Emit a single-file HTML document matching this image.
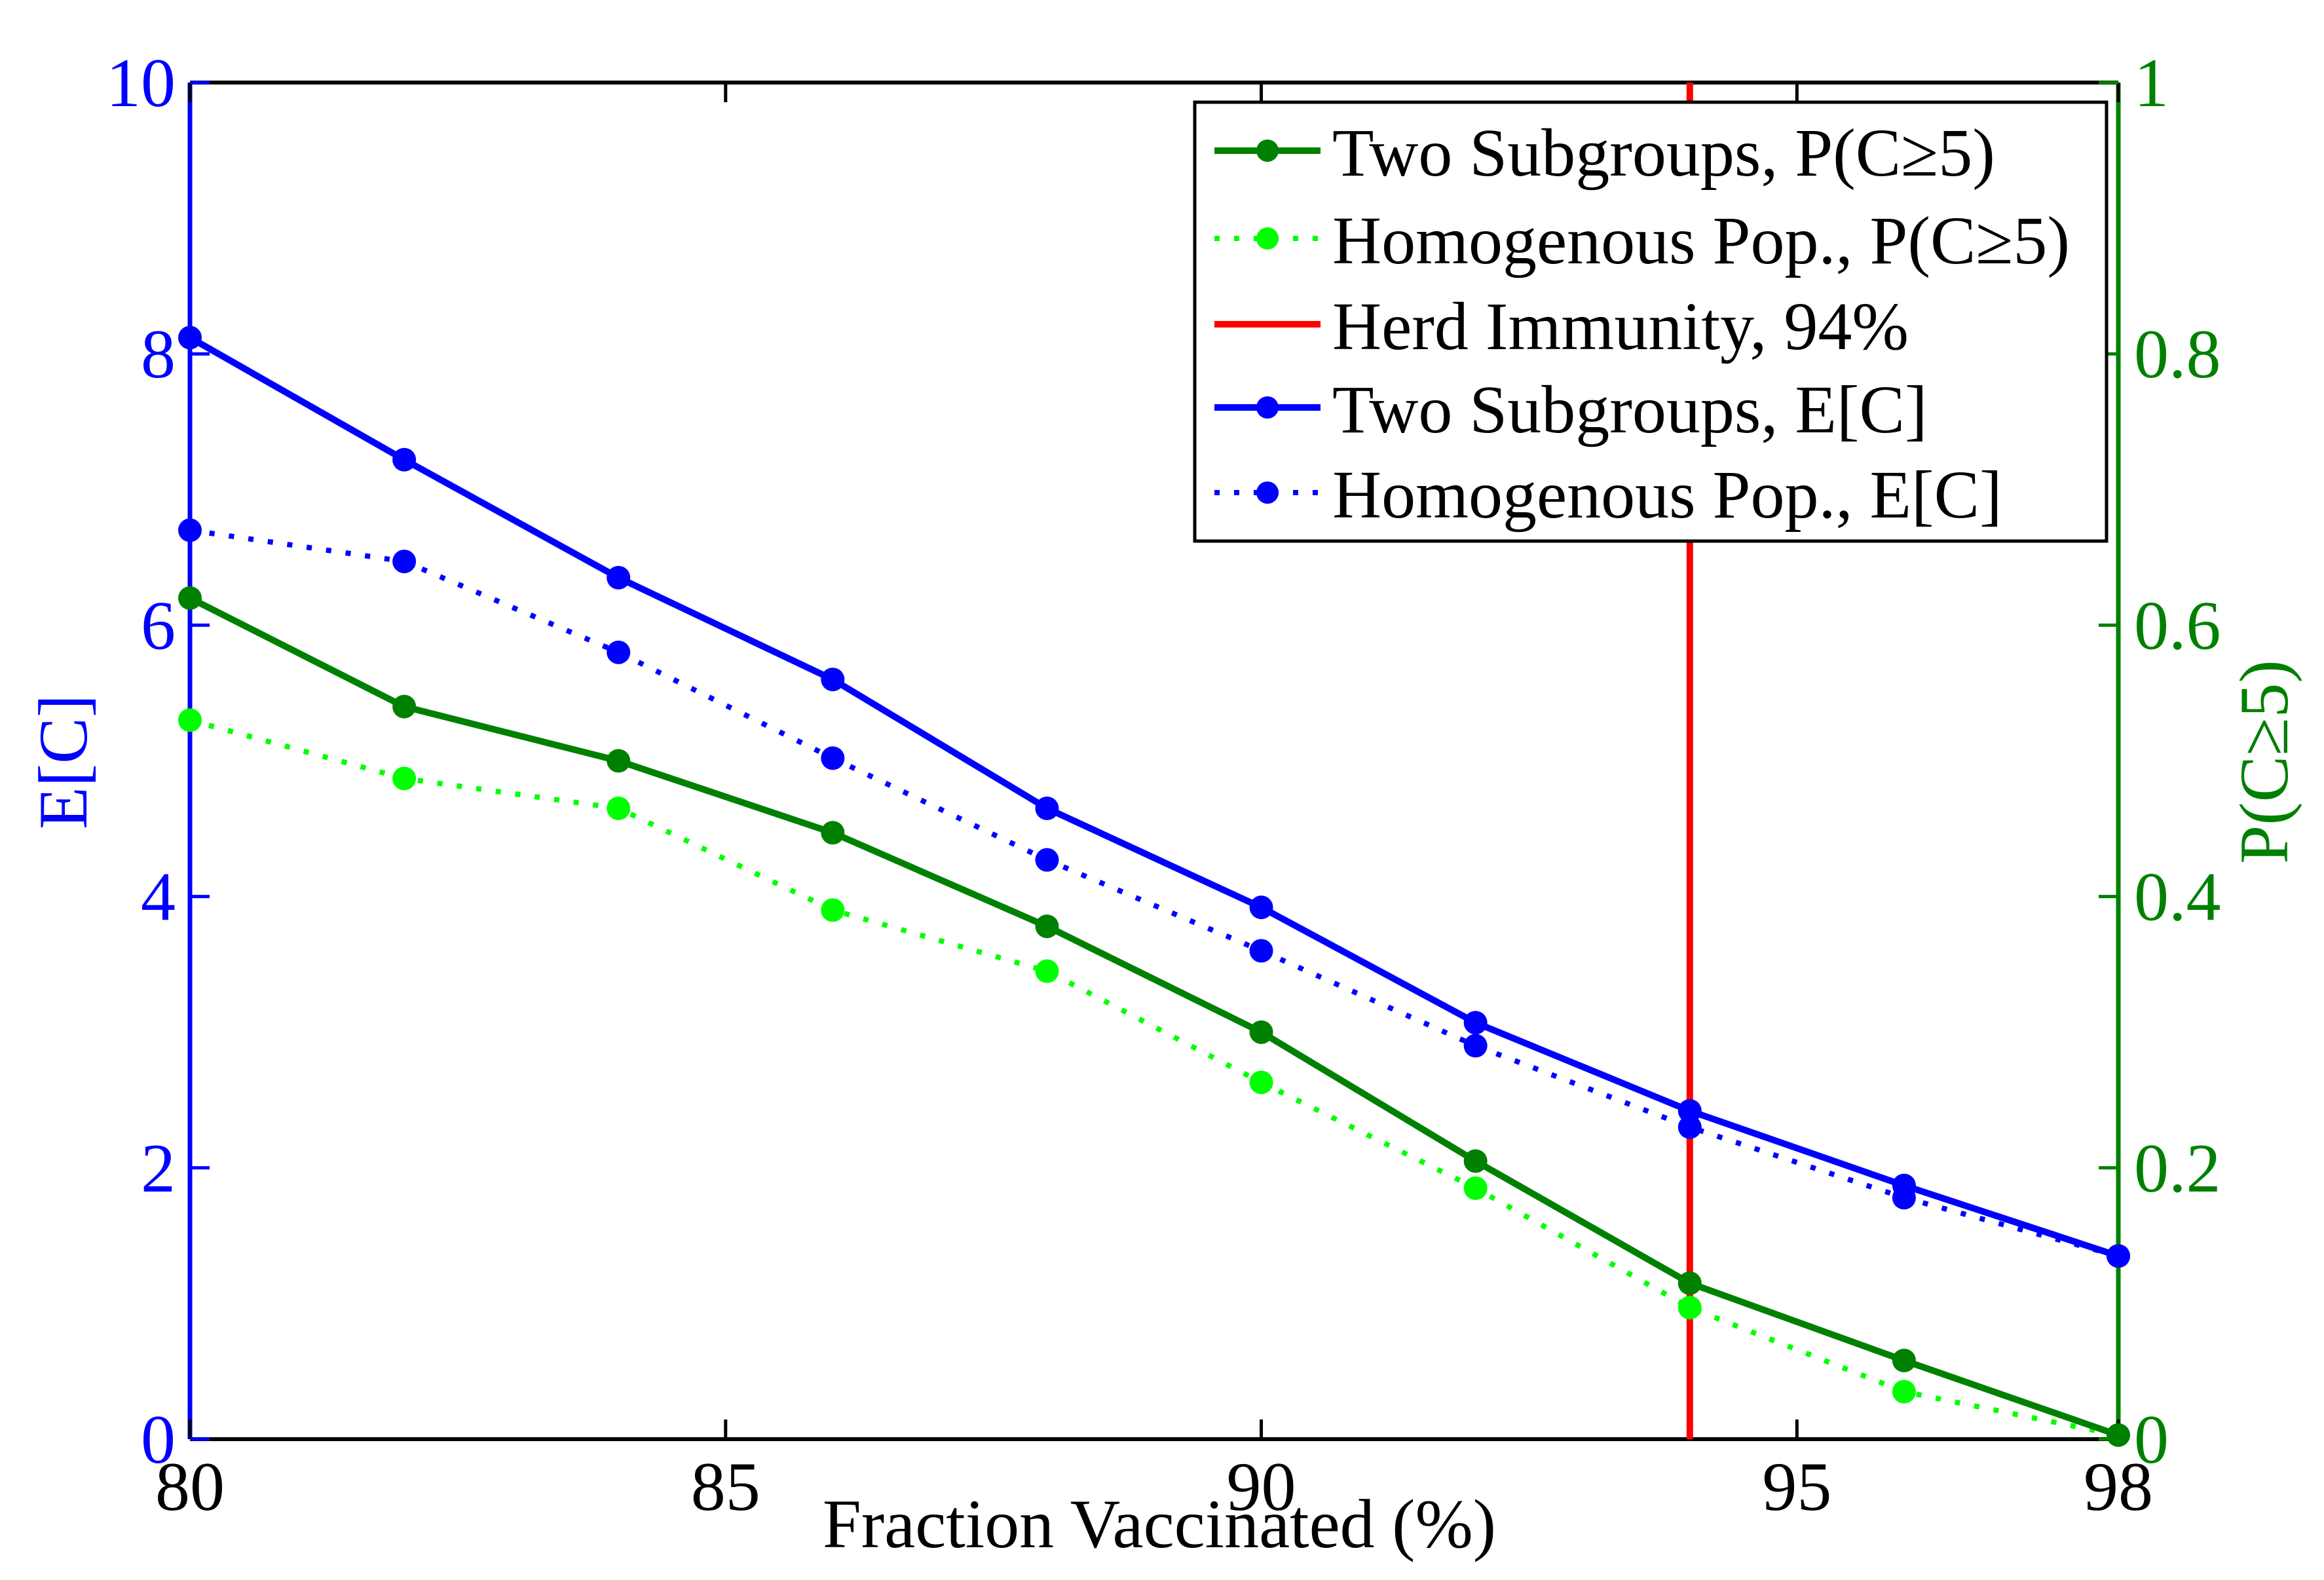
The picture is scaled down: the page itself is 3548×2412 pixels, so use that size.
<!DOCTYPE html>
<html><head><meta charset="utf-8"><style>
html,body{margin:0;padding:0;background:#fff;}
svg{display:block;font-family:"Liberation Serif",serif;}
</style></head><body>
<svg id="chart" width="3548" height="2412" viewBox="0 0 3548 2412" xmlns="http://www.w3.org/2000/svg">
<rect width="3548" height="2412" fill="#fff"/>
<g id="plot"></g>
</svg>
<script>
const xs = [80, 82, 84, 86, 88, 90, 92, 94, 96, 98];
const twoE = [8.12, 7.22, 6.35, 5.6, 4.65, 3.92, 3.07, 2.42, 1.87, 1.35];
const homE = [6.7, 6.47, 5.8, 5.02, 4.27, 3.6, 2.9, 2.3, 1.78, 1.35];
const twoP = [0.62, 0.54, 0.50, 0.447, 0.378, 0.30, 0.205, 0.115, 0.058, 0.003];
const homP = [0.53, 0.487, 0.465, 0.39, 0.345, 0.263, 0.185, 0.097, 0.035, 0.003];
const herd = 94;
const xTicks = [80, 85, 90, 95, 98];
const leftTicks = [0, 2, 4, 6, 8, 10];
const rightTicks = [0, 0.2, 0.4, 0.6, 0.8, 1];
const rightTickLabels = ["0", "0.2", "0.4", "0.6", "0.8", "1"];

const L = 290, R = 3234, T = 126, B = 2197;
const xS = v => L + (v - 80) / 18 * (R - L);
const yE = v => B - v / 10 * (B - T);
const yP = v => B - v * (B - T);
const NS = "http://www.w3.org/2000/svg";
const g = document.getElementById('plot');
function mk(tag, attrs, parent) {
  const e = document.createElementNS(NS, tag);
  for (const k in attrs) e.setAttribute(k, attrs[k]);
  (parent || g).appendChild(e);
  return e;
}
const BLUE = "#0000ff", DG = "#008000", LG = "#00ff00", RED = "#ff0000";

let e;
e = mk('line', {x1: L, y1: T, x2: R, y2: T, stroke: '#000', 'stroke-width': 6});


e = mk('line', {x1: L, y1: B, x2: R, y2: B, stroke: '#000', 'stroke-width': 6});


e = mk('line', {x1: L, y1: T, x2: L, y2: B, stroke: BLUE, 'stroke-width': 7});


e = mk('line', {x1: R, y1: T, x2: R, y2: B, stroke: DG, 'stroke-width': 7});



xTicks.forEach(t => {
  const x = xS(t);
  let a = mk('line', {x1: x, y1: B, x2: x, y2: B - 30, stroke: '#000', 'stroke-width': 5});
  
  
  a = mk('line', {x1: x, y1: T, x2: x, y2: T + 30, stroke: '#000', 'stroke-width': 5});
  
  
  const tx = mk('text', {x: x, y: B + 108, 'text-anchor': 'middle', 'font-size': 106, fill: '#000'});
  tx.textContent = t;
  
  
});
leftTicks.forEach(t => {
  const y = yE(t);
  let a = mk('line', {x1: L, y1: y, x2: L + 30, y2: y, stroke: BLUE, 'stroke-width': 5});
  
  
  const tx = mk('text', {x: L - 22, y: y + 36, 'text-anchor': 'end', 'font-size': 106, fill: BLUE});
  tx.textContent = t;
  
  
});
rightTicks.forEach((t, i) => {
  const y = yP(t);
  let a = mk('line', {x1: R, y1: y, x2: R - 30, y2: y, stroke: DG, 'stroke-width': 5});
  
  
  const tx = mk('text', {x: R + 24, y: y + 36, 'text-anchor': 'start', 'font-size': 106, fill: DG});
  tx.textContent = rightTickLabels[i];
  
  
});

e = mk('line', {x1: xS(herd), y1: T, x2: xS(herd), y2: B, stroke: RED, 'stroke-width': 10});



function series(vals, yf, color, dotted, name) {
  const pts = vals.map((v, i) => xS(xs[i]) + ',' + yf(v)).join(' ');
  const pl = mk('polyline', {points: pts, fill: 'none', stroke: color, 'stroke-width': dotted ? 8 : 10,
    'stroke-dasharray': dotted ? '8 22' : 'none', 'stroke-linejoin': 'round'});
  
  
  vals.forEach((v, i) => {
    const c = mk('circle', {cx: xS(xs[i]), cy: yf(v), r: 18, fill: color});
    
    
  });
}
series(homE, yE, BLUE, true, 'homogenous-ec');
series(twoE, yE, BLUE, false, 'two-subgroups-ec');
series(homP, yP, LG, true, 'homogenous-p');
series(twoP, yP, DG, false, 'two-subgroups-p');

const lg = mk('g', {});


e = mk('rect', {x: 1824, y: 156, width: 1392, height: 670, fill: '#fff', stroke: '#000', 'stroke-width': 5}, lg);


const entries = [
  ["Two Subgroups, P(C≥5)", DG, false, true],
  ["Homogenous Pop., P(C≥5)", LG, true, true],
  ["Herd Immunity, 94%", RED, false, false],
  ["Two Subgroups, E[C]", BLUE, false, true],
  ["Homogenous Pop., E[C]", BLUE, true, true]
];
const rowY = [230, 364, 495, 622, 752];
entries.forEach((en, i) => {
  const y = rowY[i];
  const row = mk('g', {}, lg);
  
  
  mk('line', {x1: 1854, y1: y, x2: 2016, y2: y, stroke: en[1], 'stroke-width': en[2] ? 8 : 10,
    'stroke-dasharray': en[2] ? '8 22' : 'none'}, row);
  if (en[3]) mk('circle', {cx: 1935, cy: y, r: 17, fill: en[1]}, row);
  const tx = mk('text', {x: 2034, y: y + 38, 'font-size': 104, fill: '#000'}, row);
  tx.textContent = en[0];
});

e = mk('text', {x: 1770, y: 2362, 'text-anchor': 'middle', 'font-size': 106, fill: '#000'});
e.textContent = 'Fraction Vaccinated (%)';


e = mk('text', {x: 0, y: 0, 'text-anchor': 'middle', 'font-size': 106, fill: BLUE, transform: 'translate(132,1163) rotate(-90)'});
e.textContent = 'E[C]';


e = mk('text', {x: 0, y: 0, 'text-anchor': 'middle', 'font-size': 106, fill: DG, transform: 'translate(3492,1163) rotate(-90)'});
e.textContent = 'P(C≥5)';


</script>
</body></html>
